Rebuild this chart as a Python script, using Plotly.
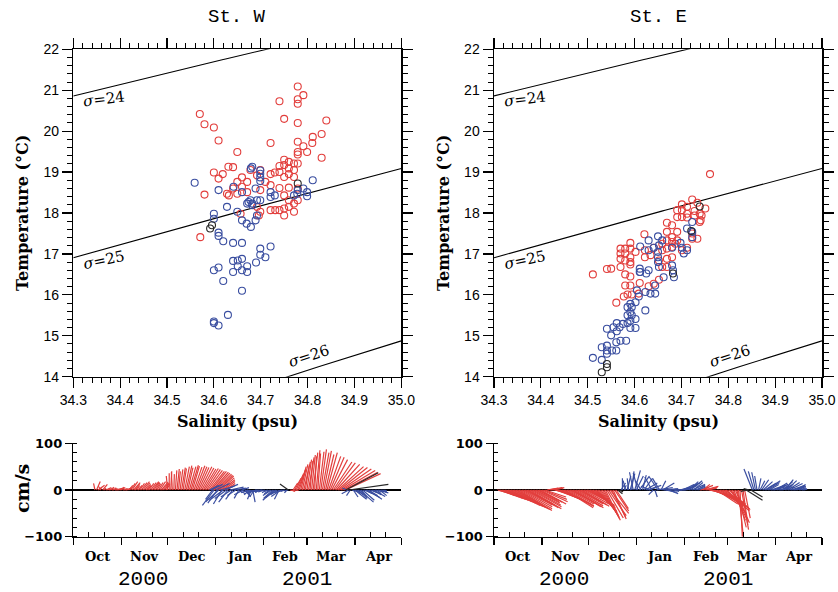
import numpy as np
import plotly.graph_objects as go

# ---------------- T-S scatter data (salinity psu, temperature degC) ----------------
W_RED = [
    (34.779, 21.09), (34.791, 20.88), (34.779, 20.78), (34.779, 20.67), (34.740, 20.73), (34.570, 20.42),
    (34.580, 20.17), (34.600, 20.09), (34.610, 19.77), (34.750, 20.30), (34.779, 20.20), (34.840, 20.26),
    (34.830, 19.93), (34.811, 19.86), (34.810, 19.71), (34.721, 19.71), (34.650, 19.49), (34.779, 19.74),
    (34.791, 19.63), (34.779, 19.49), (34.779, 19.43), (34.799, 19.49), (34.830, 19.35), (34.750, 19.30),
    (34.760, 19.25), (34.771, 19.21), (34.779, 19.21), (34.740, 19.15), (34.750, 19.17), (34.631, 19.13),
    (34.641, 19.12), (34.760, 19.09), (34.771, 19.05), (34.760, 18.95), (34.740, 19.00), (34.600, 18.99),
    (34.619, 18.95), (34.610, 18.84), (34.660, 18.87), (34.678, 19.05), (34.699, 19.05), (34.721, 18.95),
    (34.730, 18.99), (34.750, 18.88), (34.771, 18.88), (34.692, 18.92), (34.650, 18.76), (34.671, 18.76),
    (34.710, 18.76), (34.721, 18.68), (34.660, 18.64), (34.641, 18.60), (34.628, 18.47), (34.580, 18.45),
    (34.650, 18.47), (34.671, 18.51), (34.699, 18.56), (34.740, 18.61), (34.760, 18.62), (34.779, 18.60),
    (34.750, 18.43), (34.760, 18.31), (34.632, 18.43), (34.721, 18.07), (34.731, 18.07), (34.740, 18.07),
    (34.750, 18.11), (34.760, 18.15), (34.771, 18.23), (34.779, 18.31), (34.750, 17.94), (34.771, 18.03),
    (34.699, 18.03), (34.696, 17.94), (34.692, 18.15), (34.657, 17.98), (34.571, 17.41),
]
W_BLUE = [
    (34.559, 18.74), (34.610, 18.56), (34.679, 19.09), (34.699, 18.96), (34.699, 18.87), (34.689, 18.60),
    (34.660, 18.51), (34.730, 18.43), (34.779, 18.56), (34.791, 18.60), (34.811, 18.80), (34.799, 18.51),
    (34.799, 18.41), (34.771, 18.43), (34.721, 18.51), (34.678, 18.31), (34.699, 18.31), (34.699, 18.78),
    (34.682, 19.13), (34.699, 19.04), (34.642, 18.64), (34.671, 18.23), (34.682, 18.23), (34.692, 18.31),
    (34.778, 18.47), (34.600, 17.98), (34.600, 17.86), (34.628, 18.15), (34.650, 18.03), (34.660, 17.82),
    (34.670, 17.74), (34.679, 17.66), (34.689, 17.82), (34.692, 17.94), (34.674, 18.27), (34.682, 18.19),
    (34.721, 18.39), (34.610, 17.52), (34.610, 17.44), (34.620, 17.31), (34.641, 17.27), (34.660, 17.27),
    (34.699, 17.13), (34.721, 17.18), (34.699, 16.98), (34.710, 16.92), (34.641, 16.83), (34.651, 16.84),
    (34.660, 16.88), (34.690, 16.79), (34.600, 16.60), (34.610, 16.67), (34.641, 16.56), (34.651, 16.70),
    (34.660, 16.60), (34.671, 16.70), (34.671, 16.56), (34.620, 16.34), (34.660, 16.10), (34.630, 15.51),
    (34.600, 15.35), (34.600, 15.31), (34.610, 15.25),
]
W_BLACK = [(34.592, 17.62), (34.596, 17.70), (34.779, 18.72)]

E_RED = [
    (34.761, 18.95), (34.701, 18.21), (34.712, 18.15), (34.723, 18.33), (34.734, 18.25), (34.751, 18.11),
    (34.691, 18.07), (34.701, 18.07), (34.712, 17.98), (34.691, 17.90), (34.701, 17.90), (34.712, 17.89),
    (34.728, 18.05), (34.728, 17.94), (34.739, 17.98), (34.739, 17.78), (34.743, 17.94), (34.741, 17.82),
    (34.669, 17.76), (34.680, 17.70), (34.669, 17.54), (34.680, 17.41), (34.691, 17.54), (34.680, 17.29),
    (34.691, 17.33), (34.659, 17.25), (34.669, 17.33), (34.723, 17.50), (34.723, 17.37), (34.734, 17.37),
    (34.621, 17.48), (34.591, 17.27), (34.570, 17.13), (34.580, 17.13), (34.591, 17.13), (34.570, 17.01),
    (34.580, 17.01), (34.591, 16.92), (34.602, 17.05), (34.570, 16.88), (34.580, 16.84), (34.591, 16.80),
    (34.591, 16.74), (34.570, 16.68), (34.550, 16.64), (34.541, 16.63), (34.511, 16.50), (34.580, 16.50),
    (34.591, 16.45), (34.622, 17.09), (34.622, 16.92), (34.634, 16.97), (34.641, 17.15), (34.659, 17.09),
    (34.669, 17.13), (34.680, 17.17), (34.652, 16.84), (34.669, 16.88), (34.680, 16.92), (34.659, 16.68),
    (34.669, 16.68), (34.701, 17.09), (34.712, 17.15), (34.687, 17.25), (34.580, 16.23), (34.591, 16.23),
    (34.611, 16.29), (34.630, 16.21), (34.641, 16.27), (34.652, 16.37), (34.577, 15.96), (34.585, 16.01),
    (34.594, 16.01), (34.561, 15.81), (34.609, 16.03),
]
E_BLUE = [
    (34.723, 17.78), (34.712, 17.62), (34.723, 17.54), (34.723, 17.41), (34.630, 17.33), (34.650, 17.43),
    (34.641, 17.15), (34.652, 17.21), (34.659, 17.33), (34.680, 17.15), (34.698, 17.27), (34.701, 17.15),
    (34.712, 17.09), (34.705, 17.01), (34.612, 17.18), (34.630, 17.09), (34.650, 17.05), (34.650, 16.92),
    (34.650, 16.80), (34.652, 16.68), (34.611, 16.64), (34.611, 16.56), (34.630, 16.60), (34.680, 16.72),
    (34.682, 16.60), (34.662, 16.43), (34.684, 16.43), (34.612, 16.56), (34.625, 16.52), (34.644, 16.23),
    (34.634, 16.03), (34.644, 16.03), (34.623, 16.07), (34.605, 16.11), (34.609, 15.96), (34.602, 15.82),
    (34.591, 15.78), (34.585, 15.70), (34.594, 15.70), (34.591, 15.58), (34.585, 15.50), (34.594, 15.50),
    (34.602, 15.41), (34.591, 15.37), (34.585, 15.31), (34.575, 15.29), (34.562, 15.31), (34.555, 15.21),
    (34.568, 15.21), (34.562, 15.11), (34.541, 15.17), (34.550, 15.01), (34.570, 14.88), (34.582, 14.88),
    (34.561, 14.84), (34.541, 14.76), (34.530, 14.72), (34.541, 14.64), (34.552, 14.64), (34.561, 14.64),
    (34.541, 14.56), (34.511, 14.46), (34.530, 14.41), (34.623, 15.62), (34.602, 15.19), (34.591, 15.19),
]
E_BLACK = [(34.739, 18.16), (34.721, 17.56), (34.682, 16.52), (34.541, 14.31), (34.541, 14.23), (34.530, 14.11)]

SIGMA_LEVELS = [24, 25, 26]
SIGMA_LABELS = ["24", "25", "26"]
SAL_TICKS = [34.3, 34.4, 34.5, 34.6, 34.7, 34.8, 34.9, 35.0]
TEMP_TICKS = [14, 15, 16, 17, 18, 19, 20, 21, 22]

# ---------------- current stick data: (start day after 1 Oct 2000, u cm/s, v cm/s) ----------------
W_RED_SEGS = [
    (14, [-3, 8, 14, 5, -6, 10, 4, 12, 6], [14, 18, 10, 6, 8, 12, 4, 5, 3]),
    (23, [10, 8, 12, 6, 10, 14, 8, 12, 6, 10, 8, 12, 9], [4, 6, 3, 5, 2, 4, 3, 5, 6, 3, 2, 4, 5]),
    (36, [8, 10, 12, 14, 10, 6, 8, 10, 12, 14, 12, 10, 8, 10, 12, 14, 12, 10, 8, 10, 12, 14, 12, 10, 8],
         [10, 14, 18, 16, 12, 8, 10, 14, 16, 18, 15, 12, 10, 14, 16, 18, 17, 15, 13, 16, 18, 17, 15, 14, 12]),
    (61, [-3, 0, 2, -2, 1, 3, 5, 4, 6, 8, 7, 10, 12, 11, 14, 16, 15, 17, 20, 21, 22, 25, 26, 27, 29, 30, 31,
          32, 33, 34, 34, 34, 33, 32, 30, 28, 25, 22, 18],
         [30, 36, 40, 38, 34, 42, 45, 40, 44, 48, 46, 50, 52, 48, 50, 53, 51, 49, 52, 50, 48, 50, 47, 45, 46,
          44, 42, 40, 40, 38, 36, 34, 32, 30, 26, 22, 18, 14, 10]),
    (140, [10, 8, 12], [-2, -3, -1]),
    (142, [10, 14, 16, 18, 15, 10, 12, 14, 8, 10, 12, 6, 8, 10, 4, 8, 6, 10, 12, 14, 16, 18, 22, 26, 30, 34,
           40, 44, 50, 55, 60, 65, 70, 72, 75],
          [15, 25, 35, 45, 50, 42, 55, 60, 52, 65, 70, 62, 75, 80, 72, 85, 78, 82, 87, 80, 84, 76, 80, 72, 70,
           65, 60, 58, 55, 50, 48, 45, 42, 38, 35]),
]
W_BLUE_SEGS = [
    (88, [20, 25, -15, -25, 30, -20, -28, 30, -18, -30, 28, -25, -20, 30, -22, -15, 25, -18, 18, -10, 20, 15,
          -20, 12, 22],
         [10, 12, -20, -33, 14, -28, -25, 8, -30, -22, 12, -18, -26, 6, -15, -20, 4, -12, -8, -18, -6, 5, -10,
          -14, -4]),
    (113, [-15, -12, -8, 5, -10, -18, -20, -15, -12, -18, -20, -15, -10, -8, -12, -18, -20, -25, -22, -15, -10,
           -20, -25, -18, -10, -5, -8],
          [-6, -10, -20, -26, -15, -8, -4, -2, -5, -3, -2, -4, -6, -3, -8, -12, -18, -22, -16, -10, -20, -14, -8,
           -5, -3, -6, -2]),
    (177, [-10, -15, -8, 20, 10, 25, 15, 20, 30, 12, 25, 18, 30, 22, 28, 15, 20, 25, 18, 10, 22, 15, 12, 8, 5],
          [4, -8, -12, -6, -15, -20, -10, -18, -26, -14, -22, -8, -16, -12, -20, -6, -10, -14, -4, -8, -6, -12,
           -3, -5, -2]),
]
W_BLACK_SEGS = [(139, [-18], [13]), (176, [70], [37]), (178, [85], [12])]

E_RED_SEGS = [
    (2, [30, 35, 40, 45, 48, 50, 55, 58, 60, 62, 65, 68, 70, 70, 71, 68, 65, 62, 60, 62, 65, 68, 65, 60, 55, 50,
         45, 50, 55],
        [-8, -12, -15, -18, -20, -22, -25, -28, -30, -33, -35, -38, -40, -42, -44, -40, -36, -32, -30, -34, -38,
         -40, -36, -32, -28, -25, -22, -26, -30]),
    (31, [55, 50, 45, 25, 30, 20, 28, 22, 40, 50, 55, 58, 60, 62, 65, 60, 58, 55, 55, 58, 60, 62, 58, 55, 52, 56,
          58, 54, 50, 45, 48, 52],
         [-25, -20, -15, 4, 5, 3, 5, 4, -10, -18, -22, -25, -28, -30, -35, -38, -34, -30, -28, -32, -36, -38, -34,
          -30, -28, -32, -35, -30, -25, -22, -28, -32]),
    (63, [50, 48, 46, 44, 42, 40, 38, 36, 34, 32, 35, 38, 40, 30, 28, 30, 26],
         [-35, -38, -42, -45, -48, -52, -55, -58, -62, -65, -60, -55, -50, -58, -62, -45, -40]),
    (133, [20, 25, 15, 30, 25, 20], [5, 10, 12, 8, 6, 4]),
    (139, [25, 35, 40, 45, 50, 45, 55, 50, 60, 55, 45, 50, 40, 45, 35, 30, 25, 30, 20, 10, 5, 15, 10, 12],
          [-5, -10, -15, -20, -25, -30, -28, -35, -40, -38, -30, -45, -50, -42, -55, -60, -65, -70, -80, -95, -100,
           -85, -75, -60]),
]
E_BLUE_SEGS = [
    (82, [10, 0, 5, -5, 8, -3, 10, 5, -8, 12, 15, -10, 20, -12, 8, 18, 25, 30, 15, -20, -15, -10, 5, 35, -20,
          -15, 10, 25, 30, 25, -20, 20, 15, 10, 12, 15, 20, 25, 20, 30, 25, 28, 30, 22, 20, 25, 28, 20, 22, 18, 15],
         [15, 25, 10, 20, 30, 25, 35, 40, 38, 42, 30, 36, 28, 20, 32, 25, 15, 10, 5, 8, 28, -10, -15, 5, 30, 25,
          20, 15, 3, -5, 2, -8, 0, 2, -3, 1, 0, 2, 5, 8, 12, 10, 15, 14, 18, 20, 12, 16, 8, 10, 6]),
    (167, [-18, -12, -8, -5, 5, 10, 15, 20, 25, 30, 25, 20, 30, 35, 30, 25, 20, 28, 30, 25, 20, 18, 22, 25, 28,
           30, 26, 22, 20, 18, 15, 12, 10, 8],
          [45, 40, 38, 30, 25, 20, 22, 18, 15, 20, 16, 12, 10, 8, 12, 15, 10, 8, 6, 12, 18, 22, 20, 16, 14, 10, 8,
           6, 10, 12, 8, 5, 3, 2]),
]
E_BLACK_SEGS = [(80, [10, 8], [-8, -4]), (163, [35, -15, -12, 25], [-22, -3, 3, -15])]

MONTH_STARTS = [0, 31, 61, 92, 123, 151, 182, 212]
MONTH_NAMES = ["Oct", "Nov", "Dec", "Jan", "Feb", "Mar", "Apr"]
TENDAY_TICKS = [10, 20, 41, 51, 71, 81, 102, 112, 133, 143, 161, 171, 192, 202]
YEAR_LABELS = ["2000", "2001"]

# ---------------- styling ----------------
W, H = 838, 592
RED = "rgb(226,62,60)"
BLUE = "rgb(58,78,160)"
DARK = "rgb(40,40,40)"
XD_L = [73.3 / W, 401.3 / W]
XD_R = [494.0 / W, 822.0 / W]
YD_TOP = [1 - 376.7 / H, 1 - 49.3 / H]
YD_BOT = [1 - 536.7 / H, 1 - 443.3 / H]
DAY_RANGE = [0, 212]


def sigma_t(S, T):
    rw = (999.842594 + 6.793952e-2 * T - 9.095290e-3 * T ** 2 + 1.001685e-4 * T ** 3
          - 1.120083e-6 * T ** 4 + 6.536332e-9 * T ** 5)
    A = 8.24493e-1 - 4.0899e-3 * T + 7.6438e-5 * T ** 2 - 8.2467e-7 * T ** 3 + 5.3875e-9 * T ** 4
    B = -5.72466e-3 + 1.0227e-4 * T - 1.6546e-6 * T ** 2
    C = 4.8314e-4
    return rw + A * S + B * S ** 1.5 + C * S ** 2 - 1000.0


def isopycnal(sig, S):
    lo = np.zeros_like(S)
    hi = np.full_like(S, 35.0)
    for _ in range(60):
        mid = 0.5 * (lo + hi)
        dens = sigma_t(S, mid)
        lo = np.where(dens > sig, mid, lo)
        hi = np.where(dens > sig, hi, mid)
    return 0.5 * (lo + hi)


fig = go.Figure()

s_grid = np.linspace(34.3, 35.0, 141)
for xa, ya in (("x", "y"), ("x2", "y2")):
    for sig in SIGMA_LEVELS:
        fig.add_trace(go.Scatter(x=s_grid, y=isopycnal(sig, s_grid), mode="lines",
                                 line=dict(color="black", width=1.1), xaxis=xa, yaxis=ya,
                                 showlegend=False, hoverinfo="skip"))


def add_pts(pts, color, xa, ya):
    fig.add_trace(go.Scatter(x=[p[0] for p in pts], y=[p[1] for p in pts], mode="markers",
                             marker=dict(symbol="circle-open", size=7, color=color, line=dict(width=1.1)),
                             xaxis=xa, yaxis=ya, showlegend=False))


add_pts(W_RED, RED, "x", "y")
add_pts(W_BLUE, BLUE, "x", "y")
add_pts(W_BLACK, DARK, "x", "y")
add_pts(E_RED, RED, "x2", "y2")
add_pts(E_BLUE, BLUE, "x2", "y2")
add_pts(E_BLACK, DARK, "x2", "y2")

# stick scaling: same pixel scale for u (horizontal) and v (vertical)
px_per_day = (XD_L[1] - XD_L[0]) * W / (DAY_RANGE[1] - DAY_RANGE[0])
px_per_cms = (YD_BOT[1] - YD_BOT[0]) * H / 200.0
K = px_per_cms / px_per_day


def add_sticks(segs, color, xa, ya):
    xs, ys = [], []
    for start, us, vs in segs:
        for i, (u, v) in enumerate(zip(us, vs)):
            t = start + i
            xs += [t, t + u * K, None]
            ys += [0, v, None]
    fig.add_trace(go.Scatter(x=xs, y=ys, mode="lines", line=dict(color=color, width=1.2),
                             xaxis=xa, yaxis=ya, showlegend=False, hoverinfo="skip"))


add_sticks(W_RED_SEGS, RED, "x3", "y3")
add_sticks(W_BLUE_SEGS, BLUE, "x3", "y3")
add_sticks(W_BLACK_SEGS, DARK, "x3", "y3")
add_sticks(E_RED_SEGS, RED, "x4", "y4")
add_sticks(E_BLUE_SEGS, BLUE, "x4", "y4")
add_sticks(E_BLACK_SEGS, DARK, "x4", "y4")

tick_font = dict(family="Liberation Sans", size=14, color="black")
ts_x = dict(range=[34.3, 35.0], tickmode="array", tickvals=SAL_TICKS, automargin=False,
            ticktext=[f"{v:.1f}" for v in SAL_TICKS], ticks="outside", ticklen=10, tickwidth=1.2,
            tickcolor="black", showline=True, linecolor="black", linewidth=1.5, mirror="ticks",
            showgrid=False, zeroline=False, tickfont=tick_font,
            minor=dict(tick0=34.3, dtick=0.02, ticks="outside", ticklen=5, tickwidth=1, tickcolor="black"))
ts_y = dict(range=[14, 22], tickmode="array", tickvals=TEMP_TICKS, ticktext=[str(v) for v in TEMP_TICKS],
            ticks="outside", ticklen=10, tickwidth=1.2, tickcolor="black", showline=True, automargin=False,
            linecolor="black", linewidth=1.5, mirror="ticks", showgrid=False, zeroline=False,
            tickfont=tick_font,
            minor=dict(tick0=14, dtick=0.2, ticks="outside", ticklen=5, tickwidth=1, tickcolor="black"))
st_x = dict(range=DAY_RANGE, tickmode="array", tickvals=MONTH_STARTS, ticktext=[""] * len(MONTH_STARTS),
            ticks="outside", ticklen=7, tickwidth=1.3, tickcolor="black", showline=True, linecolor="black",
            linewidth=1.5, showgrid=False, zeroline=False, automargin=False,
            minor=dict(tickmode="array", tickvals=TENDAY_TICKS, ticks="inside", ticklen=5, tickwidth=1,
                       tickcolor="black"))
st_y = dict(range=[-100, 100], tickmode="array", tickvals=[-100, 0, 100], ticktext=["−100", "0", "100"],
            ticks="outside", ticklen=7, tickwidth=1.3, tickcolor="black", showline=True, linecolor="black",
            linewidth=1.5, showgrid=False, zeroline=True, zerolinecolor="black", zerolinewidth=1.2,
            automargin=False,
            tickfont=dict(family="DejaVu Sans", size=13, color="black", weight="bold"),
            minor=dict(dtick=20, tick0=0, ticks="inside", ticklen=4, tickwidth=1, tickcolor="black"))

fig.update_layout(
    width=W, height=H, autosize=False, margin=dict(l=0, r=0, t=0, b=0, pad=0, autoexpand=False),
    paper_bgcolor="white", plot_bgcolor="white", showlegend=False,
    xaxis=dict(domain=XD_L, anchor="y", **ts_x),
    yaxis=dict(domain=YD_TOP, anchor="x", **ts_y),
    xaxis2=dict(domain=XD_R, anchor="y2", **ts_x),
    yaxis2=dict(domain=YD_TOP, anchor="x2", **ts_y),
    xaxis3=dict(domain=XD_L, anchor="y3", **st_x),
    yaxis3=dict(domain=YD_BOT, anchor="x3", **st_y),
    xaxis4=dict(domain=XD_R, anchor="y4", **st_x),
    yaxis4=dict(domain=YD_BOT, anchor="x4", **st_y),
)

ann = []
title_font = dict(family="Liberation Mono", size=19, color="black")
label_font = dict(family="DejaVu Serif", size=16, color="black", weight="bold")
for xd, name in ((XD_L, "St. W"), (XD_R, "St. E")):
    xc = 0.5 * (xd[0] + xd[1])
    ann.append(dict(x=xc, y=1 - 17 / H, xref="paper", yref="paper", text=name, showarrow=False,
                    font=title_font, xanchor="center", yanchor="middle"))
    ann.append(dict(x=xc, y=1 - 421 / H, xref="paper", yref="paper", text="Salinity (psu)",
                    showarrow=False, font=label_font, xanchor="center", yanchor="middle"))
for xp in (22 / W, 443 / W):
    ann.append(dict(x=xp, y=1 - 213 / H, xref="paper", yref="paper", text="Temperature (°C)",
                    textangle=-90, showarrow=False, font=label_font, xanchor="center", yanchor="middle"))
ann.append(dict(x=22 / W, y=1 - 489 / H, xref="paper", yref="paper", text="cm/s", textangle=-90,
                showarrow=False, font=dict(family="DejaVu Serif", size=19, color="black", weight="bold"),
                xanchor="center", yanchor="middle"))

# sigma labels
sig_pos = [(34.366, 20.78, -7), (34.366, 16.84, -12), (34.803, 14.50, -18)]
for xa, ya in (("x", "y"), ("x2", "y2")):
    for (sx, ty, ang), lab in zip(sig_pos, SIGMA_LABELS):
        ann.append(dict(x=sx, y=ty, xref=xa, yref=ya, text="<i>σ</i>=" + lab, textangle=ang,
                        showarrow=False, font=dict(family="DejaVu Serif", size=15, color="black"),
                        xanchor="center", yanchor="middle"))

# month and year labels
for xa in ("x3", "x4"):
    for i, m in enumerate(MONTH_NAMES):
        mid = 0.5 * (MONTH_STARTS[i] + MONTH_STARTS[i + 1])
        ann.append(dict(x=mid, y=1 - 556 / H, xref=xa, yref="paper", text=m, showarrow=False,
                        font=dict(family="DejaVu Serif", size=13, color="black", weight="bold"),
                        xanchor="center", yanchor="middle"))
for xd in (XD_L, XD_R):
    x0 = xd[0] * W
    for dx, yl in zip((70, 234), YEAR_LABELS):
        ann.append(dict(x=(x0 + dx) / W, y=1 - 579 / H, xref="paper", yref="paper", text=yl,
                        showarrow=False, font=dict(family="Liberation Mono", size=21, color="black"),
                        xanchor="center", yanchor="middle"))

fig.update_layout(annotations=ann)
fig.write_html("out.html", config={"displayModeBar": False, "staticPlot": True},
               post_script="document.body.style.margin='0';document.body.style.padding='0';")
